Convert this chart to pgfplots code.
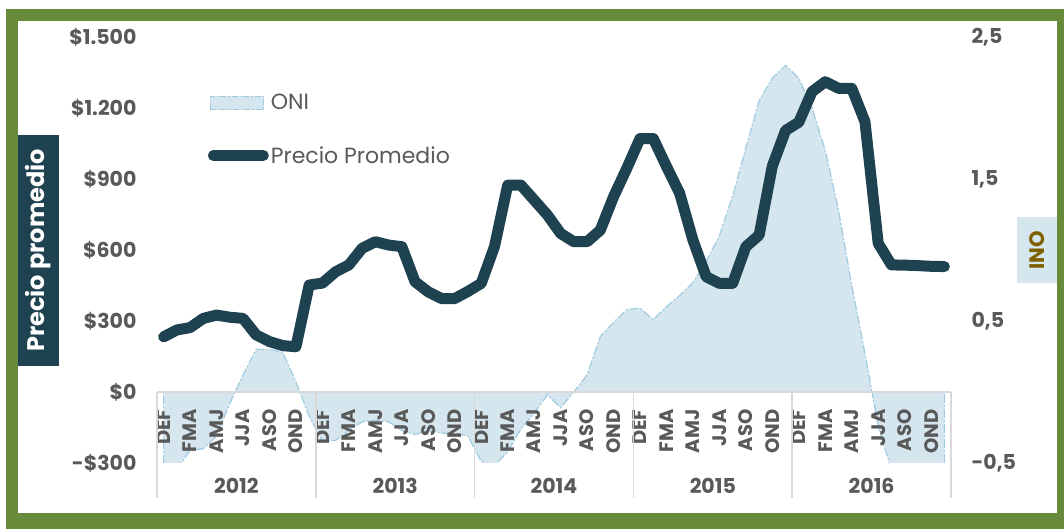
\documentclass[border=0pt]{standalone}
\usepackage{pgfplots}
\pgfplotsset{compat=1.18}
\usepackage{pgfplotstable}
\usepackage{fontspec}
\setmainfont{Poppins}
\definecolor{frameGreen}{HTML}{678B3A}
\definecolor{navy}{HTML}{1F4251}
\definecolor{oniFill}{HTML}{D5E6EF}
\definecolor{oniEdge}{HTML}{9FCBE0}
\definecolor{tickGray}{HTML}{595959}
\definecolor{axGray}{HTML}{D9D9D9}
\definecolor{inoGold}{HTML}{7F6000}

\pgfplotstableread{
i oni
0 -0.60
1 -0.55
2 -0.41
3 -0.40
4 -0.31
5 -0.08
6 0.12
7 0.30
8 0.30
9 0.28
10 0.07
11 -0.17
12 -0.35
13 -0.34
14 -0.27
15 -0.21
16 -0.20
17 -0.21
18 -0.27
19 -0.30
20 -0.27
21 -0.29
22 -0.29
23 -0.31
24 -0.49
25 -0.52
26 -0.42
27 -0.26
28 -0.15
29 -0.02
30 -0.11
31 0.00
32 0.12
33 0.39
34 0.49
35 0.58
36 0.59
37 0.51
38 0.60
39 0.68
40 0.77
41 0.92
42 1.10
43 1.38
44 1.72
45 2.05
46 2.21
47 2.30
48 2.21
49 2.00
50 1.70
51 1.28
52 0.75
53 0.27
54 -0.24
55 -0.55
56 -0.60
57 -0.65
58 -0.70
59 -0.65
}\onidata

\pgfplotstableread{
i precio
0 233
1 262
2 272
3 311
4 325
5 316
6 311
7 241
8 213
9 196
10 191
11 452
12 460
13 508
14 537
15 607
16 635
17 621
18 614
19 466
20 423
21 395
22 395
23 425
24 459
25 614
26 874
27 874
28 811
29 748
30 670
31 635
32 635
33 684
34 825
35 945
36 1071
37 1071
38 953
39 839
40 642
41 487
42 459
43 459
44 614
45 663
46 955
47 1105
48 1140
49 1269
50 1311
51 1283
52 1283
53 1142
54 628
55 537
56 536
57 534
58 531
59 530
}\preciodata

\begin{document}
\begin{tikzpicture}
\useasboundingbox (0pt,0pt) rectangle (1064pt,529pt);
\fill[white] (0pt,0pt) rectangle (1064pt,529pt);
\fill[frameGreen] (6pt,0pt) rectangle (1064pt,520pt);
\fill[white] (18pt,16pt) rectangle (1057pt,508pt);

\pgfplotsset{common/.style={
  scale only axis, width=794pt, height=426pt,
  at={(157pt,66pt)}, anchor=south west,
  xmin=-0.5, xmax=59.5,
  major tick length=0pt,
  tick label style={text=tickGray},
}}

% ONI area, right axis
\begin{axis}[common,
  hide x axis,
  axis y line*=right,
  y axis line style={draw=none},
  ymin=-0.5, ymax=2.5,
  ytick={-0.5,0.5,1.5,2.5},
  yticklabels={{-0,5},{0,5},{1,5},{2,5}},
  yticklabel style={anchor=west, xshift=17pt, font=\fontsize{20.5}{24}\selectfont\bfseries},
]
\addplot[fill=oniFill, draw=oniEdge, line width=1.2pt, dash pattern=on 9pt off 2pt on 2pt off 2pt] table[x=i,y=oni]{\onidata} \closedcycle;
\end{axis}

% category labels (trimesters) just below the zero line
\begin{axis}[
  scale only axis, width=794pt, height=100pt,
  at={(157pt,123pt)}, anchor=south west,
  xmin=-0.5, xmax=59.5, ymin=0, ymax=1,
  hide y axis,
  axis x line*=bottom,
  x axis line style={draw=none},
  major tick length=0pt,
  xtick={0,2,...,58},
  xticklabels={DEF,FMA,AMJ,JJA,ASO,OND,DEF,FMA,AMJ,JJA,ASO,OND,DEF,FMA,AMJ,JJA,ASO,OND,DEF,FMA,AMJ,JJA,ASO,OND,DEF,FMA,AMJ,JJA,ASO,OND},
  xticklabel style={rotate=90, anchor=east, text=tickGray, font=\fontsize{19.5}{22}\selectfont\bfseries},
]
\end{axis}

% price line, left axis
\begin{axis}[common,
  axis x line*=middle,
  axis y line*=left,
  x axis line style={draw=axGray, line width=1.5pt},
  y axis line style={draw=none},
  xtick=\empty,
  ymin=-300, ymax=1500,
  ytick={-300,0,300,600,900,1200,1500},
  yticklabels={{-\$300},{\$0},{\$300},{\$600},{\$900},{\$1.200},{\$1.500}},
  yticklabel style={anchor=east, xshift=-17pt, font=\fontsize{20.5}{24}\selectfont\bfseries},
  clip=false,
  legend style={at={(0.06,0.875)}, anchor=north west, draw=none, fill=none,
    font=\fontsize{22}{26}\selectfont, text=tickGray, row sep=31pt},
  legend cell align=left,
]
\addlegendimage{legend image code/.code={\fill[oniFill] (0pt,-6.5pt) rectangle (53pt,6.5pt); \draw[oniEdge, line width=1pt, dash pattern=on 6pt off 2pt on 1.5pt off 2pt] (0pt,-6.5pt) rectangle (53pt,6.5pt);}}
\addlegendentry{ONI}
\addplot[navy, line width=11pt, line join=round, line cap=round,
  legend image code/.code={\draw[navy, line width=11pt, line cap=round] (3pt,0pt) -- (53pt,0pt);}]
  table[x=i,y=precio]{\preciodata};
\addlegendentry{Precio Promedio}

\draw[axGray, line width=1.5pt] (axis cs:-0.5,0) -- ++(0pt,-106pt);
\draw[axGray, line width=1.5pt] (axis cs:11.5,0) -- ++(0pt,-106pt);
\draw[axGray, line width=1.5pt] (axis cs:23.5,0) -- ++(0pt,-106pt);
\draw[axGray, line width=1.5pt] (axis cs:35.5,0) -- ++(0pt,-106pt);
\draw[axGray, line width=1.5pt] (axis cs:47.5,0) -- ++(0pt,-106pt);
\draw[axGray, line width=1.5pt] (axis cs:59.5,0) -- ++(0pt,-106pt);
\node[font=\fontsize{20.5}{24}\selectfont\bfseries, text=tickGray, yshift=-94pt] at (axis cs:5.5,0) {2012};
\node[font=\fontsize{20.5}{24}\selectfont\bfseries, text=tickGray, yshift=-94pt] at (axis cs:17.5,0) {2013};
\node[font=\fontsize{20.5}{24}\selectfont\bfseries, text=tickGray, yshift=-94pt] at (axis cs:29.5,0) {2014};
\node[font=\fontsize{20.5}{24}\selectfont\bfseries, text=tickGray, yshift=-94pt] at (axis cs:41.5,0) {2015};
\node[font=\fontsize{20.5}{24}\selectfont\bfseries, text=tickGray, yshift=-94pt] at (axis cs:53.5,0) {2016};
\end{axis}

\node[fill=navy, text=white, font=\fontsize{24}{28}\selectfont\bfseries, rotate=90,
  minimum width=231pt, minimum height=41pt, inner sep=0pt] at (38.5pt,278.5pt) {Precio promedio};
\node[fill=oniFill, text=inoGold, font=\fontsize{21}{24}\selectfont\bfseries, rotate=90,
  minimum width=66pt, minimum height=40pt, inner sep=0pt] at (1037pt,279pt) {INO};
\end{tikzpicture}
\end{document}
